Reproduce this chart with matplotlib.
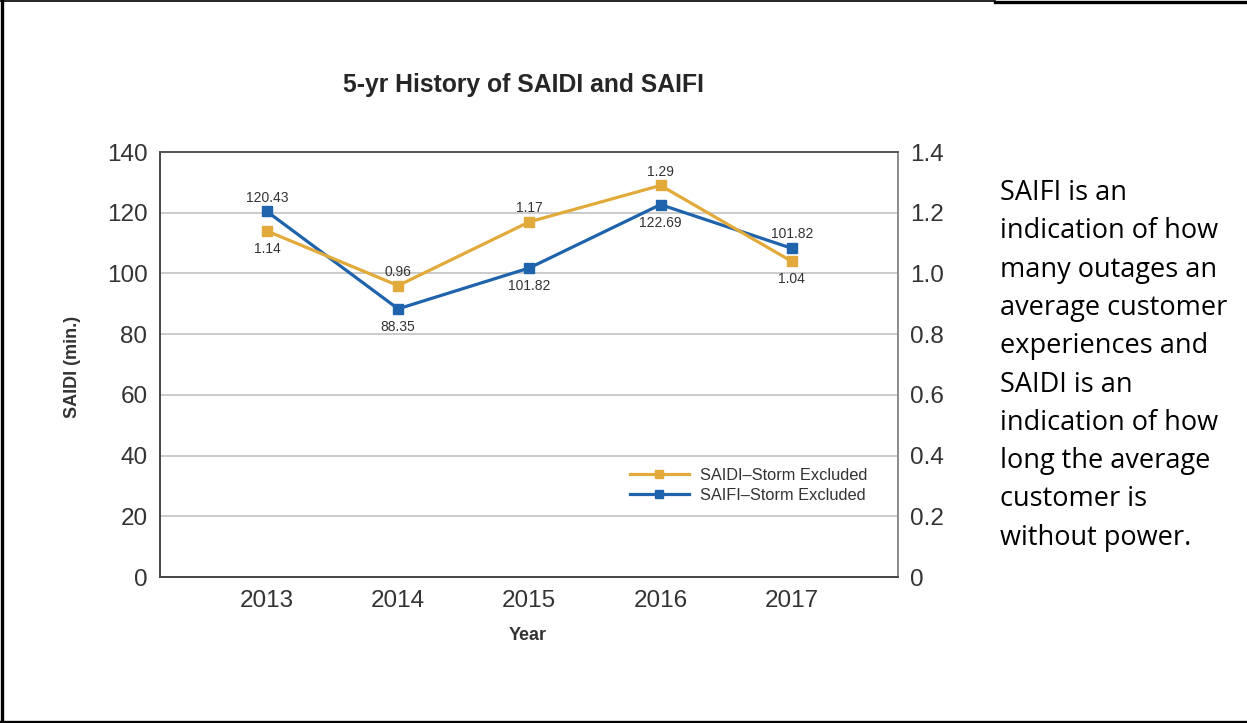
import matplotlib
matplotlib.use('Agg')
import matplotlib.pyplot as plt
from matplotlib.lines import Line2D

# Chart data
years = ['2013', '2014', '2015', '2016', '2017']
saidi_values = [1.14, 0.96, 1.17, 1.29, 1.04]          # gold line, right axis
saidi_labels = ['1.14', '0.96', '1.17', '1.29', '1.04']
saifi_values = [120.43, 88.35, 101.82, 122.69, 108.3]  # blue line, left axis
saifi_labels = ['120.43', '88.35', '101.82', '122.69', '101.82']
saidi_label_side = ['below', 'above', 'above', 'above', 'below']
saifi_label_side = ['above', 'below', 'below', 'below', 'above']

left_ticks = [0, 20, 40, 60, 80, 100, 120, 140]
right_ticks = [0, 0.2, 0.4, 0.6, 0.8, 1.0, 1.2, 1.4]
right_tick_labels = ['0', '0.2', '0.4', '0.6', '0.8', '1.0', '1.2', '1.4']

side_note = ['SAIFI is an', 'indication of how', 'many outages an',
             'average customer', 'experiences and', 'SAIDI is an',
             'indication of how', 'long the average', 'customer is',
             'without power.']

GOLD = '#E2AA3A'
BLUE = '#1F63AC'
TEXT = '#333333'

plt.rcParams['font.family'] = ['Liberation Sans', 'DejaVu Sans']

fig = plt.figure(figsize=(12.47, 7.23), dpi=100)
ax = fig.add_axes([0.1283, 0.2019, 0.5918, 0.5878])
ax2 = ax.twinx()

x = list(range(len(years)))

# Blue line on the left axis
ax.plot(x, saifi_values, color=BLUE, linewidth=2.3, marker='s', markersize=7,
        label='SAIFI\u2013Storm Excluded', zorder=3)
# Gold line on the right axis
ax2.plot(x, saidi_values, color=GOLD, linewidth=2.3, marker='s', markersize=7,
         label='SAIDI\u2013Storm Excluded', zorder=3)

ax.set_xlim(-0.815, 4.81)
ax.set_ylim(0, 140)
ax2.set_ylim(0, 1.4)

ax.set_xticks(x)
ax.set_xticklabels(years)
ax.set_yticks(left_ticks)
ax.set_yticklabels([str(t) for t in left_ticks])
ax2.set_yticks(right_ticks)
ax2.set_yticklabels(right_tick_labels)

ax.tick_params(axis='both', length=0, labelsize=17.5, labelcolor=TEXT)
ax.tick_params(axis='y', pad=9)
ax.tick_params(axis='x', pad=9)
ax2.tick_params(axis='y', length=0, labelsize=17.5, labelcolor=TEXT, pad=9)

# Horizontal gridlines
for t in left_ticks[1:-1]:
    ax.axhline(t, color='#BDBDBD', linewidth=1.1, zorder=1)

for a in (ax, ax2):
    a.spines['left'].set_color('#444444')
    a.spines['bottom'].set_color('#444444')
    a.spines['top'].set_color('#555555')
    a.spines['right'].set_color('#8a8a8a')
    for s in a.spines.values():
        s.set_linewidth(1.2)

# Data labels
for xi, v, lab, side in zip(x, saifi_values, saifi_labels, saifi_label_side):
    dy = 10 if side == 'above' else -13
    ax.annotate(lab, (xi, v), xytext=(0, dy), textcoords='offset points',
                ha='center', va='center', fontsize=10, color=TEXT)
for xi, v, lab, side in zip(x, saidi_values, saidi_labels, saidi_label_side):
    dy = 10 if side == 'above' else -13
    ax2.annotate(lab, (xi, v), xytext=(0, dy), textcoords='offset points',
                 ha='center', va='center', fontsize=10, color=TEXT)

# Legend with gold entry first
h1, l1 = ax2.get_legend_handles_labels()
h2, l2 = ax.get_legend_handles_labels()
leg = ax2.legend(h1 + h2, l1 + l2, loc='center', bbox_to_anchor=(0.798, 0.216),
                 frameon=False, fontsize=11.8, handlelength=3.6,
                 handletextpad=0.7, labelspacing=0.3, markerscale=0.85)
for t in leg.get_texts():
    t.set_color(TEXT)

fig.text(0.4195, 0.8824, '5-yr History of SAIDI and SAIFI', ha='center',
         va='center', fontsize=17.8, fontweight='bold', color='#262626')
fig.text(0.0585, 0.492, 'SAIDI (min.)', rotation=90, ha='center', va='center',
         fontsize=13, fontweight='bold', color=TEXT)
fig.text(0.4234, 0.1217, 'Year', ha='center', va='center', fontsize=13,
         fontweight='bold', color=TEXT)

# Side note, one line at a time
for i, line in enumerate(side_note):
    y_px = 200 + 38.3 * i
    fig.text(1000 / 1247, 1 - y_px / 723, line, ha='left', va='baseline',
             fontsize=19.5, family=['Open Sans', 'DejaVu Sans'], color='black')

# Page border lines
W, H = 1247, 723
fig.add_artist(Line2D([0, 995 / W], [1 - 1 / H, 1 - 1 / H], color='black',
                      linewidth=1.2, transform=fig.transFigure))
fig.add_artist(Line2D([995 / W, 1], [1 - 1.5 / H, 1 - 1.5 / H], color='black',
                      linewidth=2.4, transform=fig.transFigure))
fig.add_artist(Line2D([1.5 / W, 1.5 / W], [0, 1], color='black',
                      linewidth=2.4, transform=fig.transFigure))
fig.add_artist(Line2D([0, 1], [1.5 / H, 1.5 / H], color='black',
                      linewidth=2.4, transform=fig.transFigure))

fig.savefig('out.png', dpi=100)
